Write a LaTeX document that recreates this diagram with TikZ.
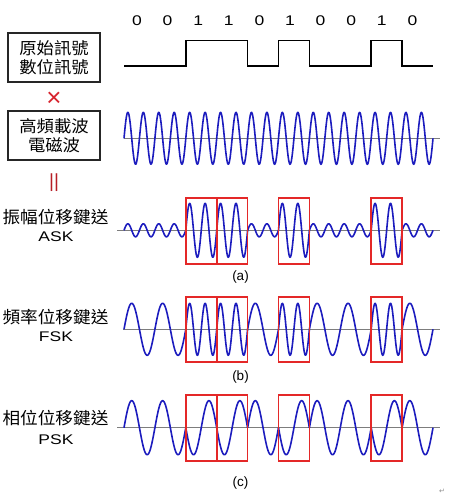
\documentclass[tikz,border=0pt]{standalone}
\usepackage{fontspec}
\setmainfont{Liberation Sans}
\newfontfamily\cjk[FakeStretch=1.05]{Noto Sans CJK TC}
\newfontfamily\widesans[FakeStretch=1.25]{Liberation Sans}
\newfontfamily\symfont{DejaVu Sans}
\definecolor{waveblue}{RGB}{28,28,190}
\definecolor{boxred}{RGB}{228,40,40}
\definecolor{signred}{RGB}{215,35,45}
\definecolor{axisgray}{RGB}{125,125,125}
\newcommand{\bitw}{30.9}
\newcommand{\bitx}{124}

\begin{document}
\begin{tikzpicture}[x=1pt, y=-1pt,
  lbl/.style={draw, color=black!85, text=black, line width=1.1pt, minimum width=92pt,
    minimum height=49pt, align=center, inner sep=2pt, font=\cjk\fontsize{16.5}{19.5}\selectfont},
  zh/.style={font=\cjk\fontsize{16.8}{16.8}\selectfont},
  en/.style={font=\widesans\fontsize{14}{14}\selectfont},
  tag/.style={font=\fontsize{13.5}{13.5}\selectfont},
  bit/.style={font=\widesans\fontsize{14}{14}\selectfont},
  wave/.style={color=waveblue, line width=1.6pt, line join=round},
  axis/.style={color=axisgray, line width=0.9pt},
  hl/.style={color=boxred, line width=1.7pt}
]
\useasboundingbox (0,0) rectangle (449,498);

% bit values above the digital signal
\foreach \b [count=\i from 0] in {0,0,1,1,0,1,0,0,1,0}
  \node[bit] (bit\i) at ({137+30.6*\i},20.7) {\b};

% digital signal
\draw[line width=1.6pt] (124,66) -| (185.8,40.3) -| (247.6,66) -| (278.5,40.3)
  -| (309.4,66) -| (371.2,40.3) -| (402.1,66) -- (433,66);

% left labels
\node[lbl] (orig) at (54,57.5) {原始訊號\\數位訊號};
\node[text=signred, font=\fontsize{26}{26}\selectfont] (times) at (54,99) {×};
\node[lbl] (carr) at (54,135.5) {高頻載波\\電磁波};
\node[text=signred!85!black, font=\fontsize{19}{19}\selectfont] (equals) at (54,183) {||};

\node[zh] (askzh) at (55.5,216.7) {振幅位移鍵送};
\node[en] (asken) at (56,236.7) {ASK};
\node[zh] (fskzh) at (55.5,316.7) {頻率位移鍵送};
\node[en] (fsken) at (56,336.7) {FSK};
\node[zh] (pskzh) at (55.5,418.3) {相位位移鍵送};
\node[en] (psken) at (56,440) {PSK};

% axes
\draw[axis] (124,138.3) -- (440,138.3);
\draw[axis] (117,230.3) -- (440,230.3);
\draw[axis] (123,329.3) -- (440,329.3);
\draw[axis] (117,427.7) -- (440,427.7);

% carrier
\draw[wave] plot[domain=124:433, samples=500] (\x, {138.3-26*sin((\x-124)*(720/\bitw))});

% ASK, FSK, PSK
\foreach \b [count=\i from 0, evaluate=\i as \xa using \bitx+\bitw*\i,
    evaluate=\i as \xb using \bitx+\bitw*(\i+1)] in {0,0,1,1,0,1,0,0,1,0} {
  \draw[wave] plot[domain=\xa:\xb, samples=60]
    (\x, {230.3-(6.5+20.5*\b)*sin((\x-\xa)*(720/\bitw))});
  \draw[wave] plot[domain=\xa:\xb, samples=60]
    (\x, {329.3-26*sin((\x-\xa)*(360*(1+\b)/\bitw))});
  \draw[wave] plot[domain=\xa:\xb, samples=60]
    (\x, {427.7-27*(1-2*\b)*sin((\x-\xa)*(360/\bitw))});
}

% red frames on the 1 bits
\foreach \k in {2,3,5,8}
  \draw[hl] ({\bitx+\bitw*\k},197.7) rectangle +(\bitw,66.3);
\foreach \k in {2,3,5,8}
  \draw[hl] ({\bitx+\bitw*\k},296.7) rectangle +(\bitw,65.6);
\foreach \k in {2,3,5,8}
  \draw[hl] ({\bitx+\bitw*\k},395) rectangle +(\bitw,66);

\node[tag] (taga) at (240.5,277) {(a)};
\node[tag] (tagb) at (240.5,377.3) {(b)};
\node[tag] (tagc) at (240.5,482.7) {(c)};

\node[text=black!45, font=\symfont\fontsize{7}{7}\selectfont] (ret) at (442,491) {↵};
\end{tikzpicture}
\end{document}
